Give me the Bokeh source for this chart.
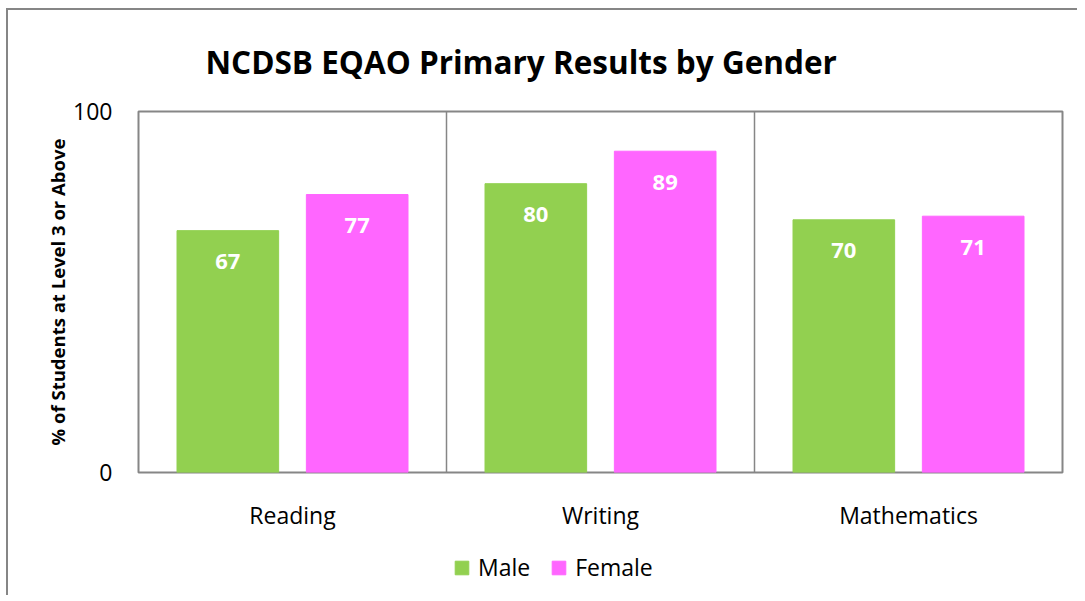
from bokeh.plotting import figure
from bokeh.layouts import column
from bokeh.models import ColumnDataSource, Range1d, FixedTicker, Span, Legend, LegendItem
from bokeh.transform import dodge
from bokeh.core.properties import value
from bokeh.embed import file_html
from bokeh.resources import INLINE

categories = ["Reading", "Writing", "Mathematics"]
male = [67, 80, 70]
female = [77, 89, 71]
y_ticks = [0, 100]
series_names = ["Male", "Female"]

FONT = "Open Sans"
GREEN = "#92D050"
PINK = "#FF66FF"
GRAY = "#868686"

src = ColumnDataSource(data=dict(
    cat=categories,
    male=male,
    female=female,
    male_txt=[str(v) for v in male],
    female_txt=[str(v) for v in female],
))

W = 1069
p = figure(
    x_range=categories,
    y_range=Range1d(0, 100),
    width=W, height=530,
    output_backend="svg", toolbar_location=None,
    min_border_left=130, min_border_right=15,
    min_border_top=101, min_border_bottom=68,
)
p.x_range.range_padding = 0
p.x_range.factor_padding = 0

# Title
p.title.text = "NCDSB EQAO Primary Results by Gender"
p.title.text_font = FONT
p.title.text_font_size = "31.5px"
p.title.text_font_style = "bold"
p.title.text_color = "black"
p.title.align = "left"
p.title.offset = 67
p.title.vertical_align = "middle"
p.title.standoff = 56

# Frame
p.outline_line_color = GRAY
p.outline_line_width = 2
p.background_fill_color = "white"
p.border_fill_color = "white"
p.xgrid.visible = False
p.ygrid.visible = False

# Bars
r_m = p.vbar(x=dodge("cat", -0.21, range=p.x_range), top="male", width=0.33,
             source=src, fill_color=GREEN, line_color=GREEN)
r_f = p.vbar(x=dodge("cat", 0.21, range=p.x_range), top="female", width=0.33,
             source=src, fill_color=PINK, line_color=PINK)

# Value labels
for col, off in (("male", -0.21), ("female", 0.21)):
    p.text(x=dodge("cat", off, range=p.x_range), y=col, text=col + "_txt", source=src,
           text_color="white", text_font=value(FONT), text_font_style="bold",
           text_font_size="22px", text_align="center", text_baseline="middle",
           y_offset=31)

# Category separators
for loc in (1, 2):
    p.add_layout(Span(location=loc, dimension="height", line_color=GRAY, line_width=1.5))

# Axes
p.yaxis.ticker = FixedTicker(ticks=y_ticks)
p.yaxis.axis_label = "% of Students at Level 3 or Above"
p.yaxis.axis_label_text_font = FONT
p.yaxis.axis_label_text_font_size = "18.5px"
p.yaxis.axis_label_text_font_style = "bold"
p.yaxis.axis_label_text_color = "black"
p.yaxis.axis_label_standoff = 0
p.yaxis.major_label_text_font = FONT
p.yaxis.major_label_text_font_size = "23px"
p.yaxis.major_label_text_color = "black"
p.yaxis.major_label_standoff = 20
p.yaxis.major_tick_line_color = None
p.yaxis.minor_tick_line_color = None
p.yaxis.axis_line_color = None

p.xaxis.major_label_text_font = FONT
p.xaxis.major_label_text_font_size = "23px"
p.xaxis.major_label_text_color = "black"
p.xaxis.major_label_standoff = 20
p.xaxis.major_tick_line_color = None
p.xaxis.minor_tick_line_color = None
p.xaxis.axis_line_color = None

# Legend strip (frames of a column are aligned with the chart above)
lg = figure(
    width=W, height=55,
    x_range=Range1d(0, 1), y_range=Range1d(0, 1),
    output_backend="svg", toolbar_location=None,
    min_border=0,
)
lg.axis.visible = False
lg.grid.visible = False
lg.outline_line_color = None
lg.border_fill_color = "white"
key_src = ColumnDataSource(data=dict(x=[0.0], top=[0.0]))
lm = lg.vbar(x="x", top="top", width=0.0, source=key_src,
             fill_color=GREEN, line_color=GREEN, visible=False)
lf = lg.vbar(x="x", top="top", width=0.0, source=key_src,
             fill_color=PINK, line_color=PINK, visible=False)
legend = Legend(
    items=[LegendItem(label=series_names[0], renderers=[lm]),
           LegendItem(label=series_names[1], renderers=[lf])],
    orientation="horizontal",
    location=(315, 12),
    padding=0, margin=0, spacing=20,
    glyph_width=17, glyph_height=17, label_standoff=8,
    label_text_font=FONT, label_text_font_size="23px", label_text_color="black",
    border_line_alpha=0, background_fill_alpha=0,
)
lg.add_layout(legend, "center")

layout = column(p, lg, spacing=0,
                styles={"border-left": f"2px solid {GRAY}", "border-top": f"2px solid {GRAY}",
                        "margin-left": "6px", "margin-top": "8px"})

open("out.html", "w").write(file_html(layout, INLINE))
